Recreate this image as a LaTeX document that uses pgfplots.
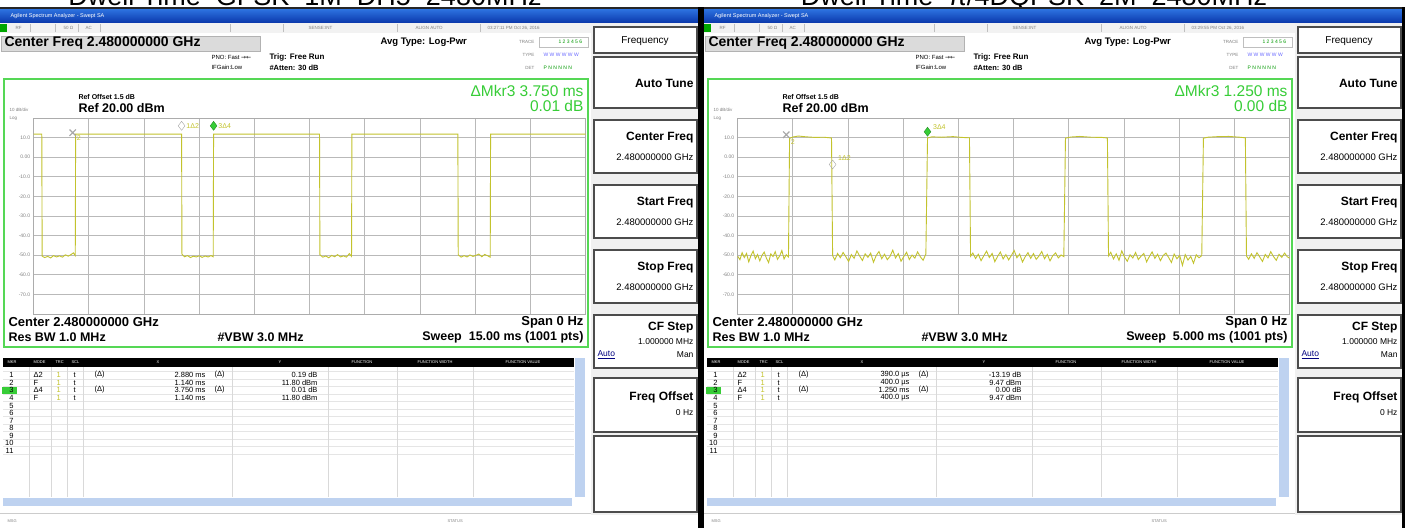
\documentclass[border=0pt]{standalone}
\usepackage{pgfplots}
\pgfplotsset{compat=1.18}
\usepackage{fontspec}
\setmainfont{Liberation Sans}
\newfontfamily\dejavu{DejaVu Sans}
\definecolor{barA}{RGB}{45,115,225}
\definecolor{barB}{RGB}{10,55,170}
\definecolor{frameG}{RGB}{85,215,85}
\definecolor{mkrG}{RGB}{55,205,55}
\definecolor{traceY}{RGB}{195,195,45}
\definecolor{gridG}{RGB}{185,185,185}
\definecolor{scrollB}{RGB}{190,210,240}
\newcommand\fs[1]{\fontsize{#1}{#1}\selectfont}
\newcommand\key[3]{\draw[fill=white,draw=gray!60!black,line width=1.1pt] (594pt,-#1pt) rectangle (697pt,-#2pt);}
\newcommand\mrow[8]{%
\node[anchor=east,font=\fs{7.5}] at (17pt,-#1pt) {#2};
\node[anchor=west,font=\fs{7.5}] at (30pt,-#1pt) {#3};
\node[anchor=west,font=\fs{7.5},text=traceY] at (53pt,-#1pt) {#4};
\node[anchor=west,font=\fs{7.5}] at (70pt,-#1pt) {t};
\node[anchor=west,font=\fs{7.5}] at (91pt,-#1pt) {#5};
\node[anchor=east,font=\fs{7.5}] at (209pt,-#1pt) {#6};
\node[anchor=west,font=\fs{7.5}] at (211pt,-#1pt) {#7};
\node[anchor=east,font=\fs{7.5}] at (321pt,-#1pt) {#8};}
\newcommand\screen[1]{%
\begin{scope}[xshift=#1pt]
% cut title
\node[anchor=base,font=\fs{27},inner sep=0pt] at (\TitleX pt,-5.5pt) {\Title};
\fill[black!85] (0pt,-7pt) rectangle (698pt,-9pt);
\shade[top color=barA,bottom color=barB] (0pt,-9pt) rectangle (698pt,-23pt);
\node[anchor=west,text=white,font=\fs{5.5}] at (7pt,-16pt) {Agilent Spectrum Analyzer - Swept SA};
% status row
\fill[gray!10] (0pt,-23pt) rectangle (593pt,-33pt);
\fill[green!65!black] (0pt,-24pt) rectangle (7pt,-32pt);
\foreach \xx in {30,55,78,100,230,283,397,480}{\draw[gray!50] (\xx pt,-24pt)--(\xx pt,-32pt);}
\node[anchor=west,font=\fs{4.5},text=gray] at (12pt,-28pt) {RF};
\node[anchor=west,font=\fs{4.5},text=gray] at (60pt,-28pt) {50 Ω};
\node[anchor=west,font=\fs{4.5},text=gray] at (82pt,-28pt) {AC};
\node[anchor=west,font=\fs{4.5},text=gray] at (305pt,-28pt) {SENSE:INT};
\node[anchor=west,font=\fs{4.5},text=gray] at (412pt,-28pt) {ALIGN AUTO};
\node[anchor=west,font=\fs{4.5},text=gray] at (484pt,-28pt) {\Time};
% header block
\fill[gray!28] (1pt,-36pt) rectangle (260pt,-51pt);
\draw[gray!60] (1pt,-36pt) rectangle (260pt,-51pt);
\node[anchor=west,font=\bfseries\fs{14}] at (1pt,-43.5pt) {Center Freq 2.480000000 GHz};
\node[anchor=west,font=\bfseries\fs{9.5}] at (377pt,-42pt) {Avg Type: Log-Pwr};
\node[anchor=west,font=\fs{6}] at (208pt,-57pt) {PNO: Fast {\dejavu →←}};
\node[anchor=west,font=\fs{6}] at (208pt,-67pt) {IFGain:Low};
\node[anchor=west,font=\bfseries\fs{8}] at (266pt,-57pt) {Trig: Free Run};
\node[anchor=west,font=\bfseries\fs{7.5}] at (266pt,-68pt) {\#Atten: 30 dB};
\node[anchor=east,font=\fs{4.5},text=gray] at (538pt,-42pt) {TRACE};
\node[anchor=east,font=\fs{4.5},text=gray] at (538pt,-55pt) {TYPE};
\node[anchor=east,font=\fs{4.5},text=gray] at (538pt,-68pt) {DET};
\draw[gray!50] (539pt,-37pt) rectangle (588pt,-47pt);
\node[anchor=west,font=\fs{5},text=green!60!black] at (555pt,-42pt) {1 2 3 4 5 6};
\node[anchor=west,font=\fs{5},text=blue!60] at (540pt,-55pt) {W W W W W W};
\node[anchor=west,font=\fs{5},text=green!60!black] at (540pt,-68pt) {P N N N N N};
% green frame
\draw[frameG,line width=2pt] (4pt,-79pt) rectangle (588pt,-347pt);
\node[anchor=west,font=\bfseries\fs{7}] at (75pt,-97pt) {Ref Offset 1.5 dB};
\node[anchor=west,font=\bfseries\fs{12.5}] at (75pt,-108pt) {Ref 20.00 dBm};
\node[anchor=west,font=\fs{4.5},text=gray] at (6pt,-110pt) {10 dB/div};
\node[anchor=west,font=\fs{4.5},text=gray] at (6pt,-118pt) {Log};
\node[anchor=east,font=\fs{15.5},text=mkrG] at (587pt,-91pt) {ΔMkr3 \MkrT};
\node[anchor=east,font=\fs{15.5},text=mkrG] at (587pt,-106pt) {\MkrD};
\node[anchor=west,font=\bfseries\fs{13}] at (5pt,-322pt) {Center 2.480000000 GHz};
\node[anchor=east,font=\bfseries\fs{13}] at (587pt,-322pt) {Span 0 Hz};
\node[anchor=west,font=\bfseries\fs{12.5}] at (5pt,-337pt) {Res BW 1.0 MHz};
\node[anchor=west,font=\bfseries\fs{12.5}] at (214pt,-337pt) {\#VBW 3.0 MHz};
\node[anchor=east,font=\bfseries\fs{12.5}] at (587pt,-337pt) {Sweep \ \Sweep};
% marker table
\foreach \yy in {371,379,386.5,394,401.5,409,416.5,424,431.5,439,446.5,454} {\draw[gray!20] (3pt,-\yy pt)--(574pt,-\yy pt);}
\foreach \xx in {29,51,67,83,232,328,397,473} {\draw[gray!30] (\xx pt,-367pt)--(\xx pt,-497pt);}
\fill[black] (3pt,-358pt) rectangle (574pt,-367pt);
\node[anchor=west,font=\fs{4},text=white] at (4pt,-362.5pt) {MKR};
\node[anchor=west,font=\fs{4},text=white] at (30pt,-362.5pt) {MODE};
\node[anchor=west,font=\fs{4},text=white] at (52pt,-362.5pt) {TRC};
\node[anchor=west,font=\fs{4},text=white] at (68pt,-362.5pt) {SCL};
\node[font=\fs{4},text=white] at (158pt,-362.5pt) {X};
\node[font=\fs{4},text=white] at (280pt,-362.5pt) {Y};
\node[font=\fs{4},text=white] at (362pt,-362.5pt) {FUNCTION};
\node[font=\fs{4},text=white] at (435pt,-362.5pt) {FUNCTION WIDTH};
\node[font=\fs{4},text=white] at (523pt,-362.5pt) {FUNCTION VALUE};
\fill[scrollB] (575pt,-358pt) rectangle (585pt,-497pt);
\fill[scrollB] (3pt,-498pt) rectangle (572pt,-506pt);
\fill[mkrG] (2pt,-386.5pt) rectangle (17pt,-394pt);
\mrow{375}{1}{Δ2}{1}{(Δ)}{\RaX}{(Δ)}{\RaY}
\mrow{383}{2}{F}{1}{}{\RbX}{}{\RbY}
\mrow{390}{3}{Δ4}{1}{(Δ)}{\RcX}{(Δ)}{\RcY}
\mrow{398}{4}{F}{1}{}{\RdX}{}{\RdY}
\foreach \n/\yy in {5/405.5,6/413,7/420.5,8/428,9/435.5,10/443,11/450.5}{\node[anchor=east,font=\fs{7.5}] at (17pt,-\yy pt) {\n};}
\draw[gray!40] (0pt,-513pt)--(593pt,-513pt);
\node[anchor=west,font=\fs{4},text=gray] at (4pt,-521pt) {MSG};
\node[anchor=west,font=\fs{4},text=gray] at (444pt,-521pt) {STATUS};
% soft key panel
\fill[gray!12] (591pt,-23pt) rectangle (698pt,-515pt);
\key{27}{53}{}
\key{57}{108}{}
\key{120}{173}{}
\key{185}{238}{}
\key{250}{303}{}
\key{315}{368}{}
\key{378}{432}{}
\key{436}{512}{}
\node[font=\fs{10}] at (645pt,-41pt) {Frequency};
\node[anchor=east,font=\bfseries\fs{12}] at (697pt,-83pt) {Auto Tune};
\node[anchor=east,font=\bfseries\fs{12}] at (697pt,-138pt) {Center Freq};
\node[anchor=east,font=\fs{9.5}] at (697pt,-157pt) {2.480000000 GHz};
\node[anchor=east,font=\bfseries\fs{12}] at (697pt,-203pt) {Start Freq};
\node[anchor=east,font=\fs{9.5}] at (697pt,-222pt) {2.480000000 GHz};
\node[anchor=east,font=\bfseries\fs{12}] at (697pt,-268pt) {Stop Freq};
\node[anchor=east,font=\fs{9.5}] at (697pt,-287pt) {2.480000000 GHz};
\node[anchor=east,font=\bfseries\fs{12}] at (697pt,-328pt) {CF Step};
\node[anchor=east,font=\fs{8.5}] at (697pt,-342pt) {1.000000 MHz};
\node[anchor=west,font=\fs{8.5},text=blue!50!black] at (594pt,-355pt) {\underline{Auto}};
\node[anchor=east,font=\fs{8.5}] at (697pt,-355pt) {Man};
\node[anchor=east,font=\bfseries\fs{12}] at (697pt,-397pt) {Freq Offset};
\node[anchor=east,font=\fs{8.5}] at (697pt,-413pt) {0 Hz};
\fill[black] (698pt,-7pt) rectangle (704pt,-528pt);
\end{scope}}
\pgfplotsset{scr/.style={anchor=south west, scale only axis, width=551.8pt, height=196pt,
  ymin=-80, ymax=20, ytick={-70,-60,...,10},
  yticklabels={-70.0,-60.0,-50.0,-40.0,-30.0,-20.0,-10.0,0.00,10.0},
  yticklabel style={font=\fs{5}, text=gray},
  xticklabels={{},{},{},{},{},{},{},{},{},{}},
  grid=major, major grid style={gridG, line width=0.8pt},
  major tick length=0pt, axis line style={gray!65, line width=1pt}, clip=false}}
\begin{document}
\begin{tikzpicture}
\useasboundingbox (0pt,0pt) rectangle (1405pt,-528pt);
\clip (0pt,0pt) rectangle (1405pt,-528pt);
\fill[white] (0pt,0pt) rectangle (1405pt,-528pt);
% ---- left screen
\def\Title{Dwell Time\_GFSK\_1M\_DH5\_2480MHz}\def\TitleX{305}
\def\Time{03:27:11 PM Oct 26, 2016}
\def\MkrT{3.750 ms}\def\MkrD{0.01 dB}\def\Sweep{15.00 ms (1001 pts)}
\def\RaX{2.880 ms}\def\RaY{0.19 dB}\def\RbX{1.140 ms}\def\RbY{11.80 dBm}
\def\RcX{3.750 ms}\def\RcY{0.01 dB}\def\RdX{1.140 ms}\def\RdY{11.80 dBm}
\screen{0}
% ---- right screen
\def\Title{Dwell Time\_π/4DQPSK\_2M\_2480MHz}\def\TitleX{330}
\def\Time{03:29:55 PM Oct 26, 2016}
\def\MkrT{1.250 ms}\def\MkrD{0.00 dB}\def\Sweep{5.000 ms (1001 pts)}
\def\RaX{390.0 µs}\def\RaY{-13.19 dB}\def\RbX{400.0 µs}\def\RbY{9.47 dBm}
\def\RcX{1.250 ms}\def\RcY{0.00 dB}\def\RdX{400.0 µs}\def\RdY{9.47 dBm}
\screen{704}
\fill[black] (1402pt,-7pt) rectangle (1405pt,-528pt);
% ---- left trace
\begin{axis}[scr, at={(33.7pt,-314pt)}, xmin=0, xmax=15, xtick={1.5,3,...,13.5}]
\addplot[traceY, line width=0.9pt] coordinates {
(0,11.8)(0.22,11.8)(0.23,-50.5)(0.3,-51.2)(0.38,-50.6)(0.46,-51.4)(0.54,-50.2)(0.62,-50.9)(0.7,-50.3)(0.78,-51)(0.86,-49.8)(0.94,-50.5)(1.02,-49.6)(1.08,-48.8)(1.13,-50.2)(1.14,11.8)
(4.02,11.8)(4.03,-49.5)(4.1,-50.8)(4.18,-50.2)(4.26,-51.2)(4.34,-50.5)(4.42,-50.9)(4.5,-50.3)(4.58,-51.1)(4.66,-50.4)(4.74,-50.9)(4.82,-50.2)(4.88,-50.8)(4.89,11.8)
(7.77,11.8)(7.78,-49.8)(7.86,-51)(7.94,-50.4)(8.02,-51.3)(8.1,-50.1)(8.18,-50.8)(8.26,-49.7)(8.34,-50.9)(8.42,-50.3)(8.5,-51)(8.58,-49.2)(8.64,-50.6)(8.65,11.8)
(11.53,11.8)(11.54,-49.8)(11.62,-51)(11.7,-50.2)(11.78,-50.9)(11.86,-49.9)(11.94,-50.6)(12.02,-50.1)(12.1,-49.4)(12.18,-50.8)(12.26,-49.6)(12.34,-50.3)(12.41,-51)(12.42,11.8)
(15,11.8)};
\addplot[only marks, mark=x, mark size=4.5pt, gray!70, line width=1.2pt] coordinates {(1.06,12.5)};
\addplot[only marks, mark=diamond, mark size=4.5pt, draw=gray!70, fill=white] coordinates {(4.02,16)};
\addplot[only marks, mark=diamond*, mark size=4.5pt, draw=mkrG!70!black, fill=mkrG] coordinates {(4.89,16)};
\node[anchor=west, font=\fs{7}, text=traceY, inner sep=1pt] at (axis cs:1.14,10) {2};
\node[anchor=west, font=\fs{7}, text=traceY, inner sep=1pt] at (axis cs:4.12,16) {1Δ2};
\node[anchor=west, font=\fs{7}, text=traceY, inner sep=1pt] at (axis cs:4.99,16) {3Δ4};
\end{axis}
% ---- right trace
\begin{axis}[scr, at={(737.7pt,-314pt)}, xmin=0, xmax=5, xtick={0.5,1,...,4.5}]
\addplot[traceY, line width=0.9pt] coordinates {
(0,-50.5)(0.02,-52.3)(0.04,-48.7)(0.06,-51.2)(0.08,-49.1)(0.1,-53.4)(0.12,-50.2)(0.14,-47.9)(0.16,-51.8)(0.18,-49.6)(0.2,-52.9)(0.22,-50.1)(0.24,-48.4)(0.26,-51.5)(0.28,-53.8)(0.3,-49.3)(0.32,-50.7)(0.34,-48.2)(0.36,-52.1)(0.38,-50.4)(0.4,-47.6)(0.42,-51.9)(0.44,-49.8)(0.46,-50.9)
(0.47,9.6)(0.5,10.3)(0.55,10.8)(0.62,10.4)(0.7,10.1)(0.78,10.2)(0.85,9.8)(0.86,-50.2)
(0.88,-52.4)(0.905,-49.1)(0.93,-51.3)(0.955,-48.6)(0.98,-50.8)(1.005,-53.2)(1.03,-49.7)(1.055,-51.6)(1.08,-47.8)(1.105,-50.4)(1.13,-52.7)(1.155,-49.3)(1.18,-51.1)(1.205,-48.9)(1.23,-53.6)(1.255,-50.2)(1.28,-48.1)(1.305,-51.8)(1.33,-49.5)(1.355,-52.3)(1.38,-50.6)(1.405,-47.4)(1.43,-51.4)(1.455,-49.2)(1.48,-53.1)(1.505,-50.7)(1.53,-48.5)(1.555,-52.2)(1.58,-49.9)(1.605,-51.5)(1.63,-48.3)(1.655,-50.8)(1.68,-52.6)(1.705,-49.4)
(1.72,9.8)(1.76,10.4)(1.85,10.2)(1.95,10.5)(2.03,10.1)(2.1,9.9)(2.11,-50.5)
(2.13,-48.9)(2.155,-51.7)(2.18,-49.5)(2.205,-52.8)(2.23,-50.3)(2.255,-47.9)(2.28,-51.2)(2.305,-49.1)(2.33,-53.3)(2.355,-50.6)(2.38,-48.4)(2.405,-51.9)(2.43,-49.7)(2.455,-52.4)(2.48,-50.1)(2.505,-47.6)(2.53,-51.3)(2.555,-49.4)(2.58,-53.5)(2.605,-50.8)(2.63,-48.7)(2.655,-51.6)(2.68,-49.2)(2.705,-52.1)(2.73,-50.4)(2.755,-48.1)(2.78,-51.8)(2.805,-49.6)(2.83,-52.9)(2.855,-50.2)(2.88,-48.8)(2.905,-51.4)(2.93,-49.9)(2.955,-50.7)
(2.97,9.7)(3.02,10.3)(3.1,10.6)(3.2,10.2)(3.3,10.1)(3.35,9.8)(3.36,-50.3)
(3.38,-48.5)(3.405,-51.9)(3.43,-49.3)(3.455,-52.6)(3.48,-47.8)(3.505,-50.9)(3.53,-53.1)(3.555,-49.8)(3.58,-51.4)(3.605,-48.6)(3.63,-52.2)(3.655,-50.5)(3.68,-49.1)(3.705,-53.4)(3.73,-50.7)(3.755,-48.3)(3.78,-51.6)(3.805,-49.5)(3.83,-52.8)(3.855,-50.2)(3.88,-48.9)(3.905,-51.2)(3.93,-53.7)(3.955,-49.4)(3.98,-51.8)(4.005,-50.1)(4.03,-55.2)(4.055,-49.7)(4.08,-52.5)(4.105,-50.6)(4.13,-54.1)(4.155,-49.8)(4.18,-51.3)(4.205,-50.2)
(4.22,9.7)(4.26,10.2)(4.35,10.5)(4.45,10.6)(4.55,10.2)(4.6,9.9)(4.61,-50.4)
(4.63,-52.1)(4.655,-49.3)(4.68,-51.6)(4.705,-48.7)(4.73,-50.9)(4.755,-53.2)(4.78,-49.6)(4.805,-51.4)(4.83,-48.2)(4.855,-50.7)(4.88,-52.6)(4.905,-49.5)(4.93,-51.1)(4.955,-48.9)(4.98,-50.8)(5,-51.5)};
\addplot[only marks, mark=x, mark size=4.5pt, gray!70, line width=1.2pt] coordinates {(0.44,11.5)};
\addplot[only marks, mark=diamond, mark size=4.5pt, draw=gray!70, fill=white] coordinates {(0.86,-3.7)};
\addplot[only marks, mark=diamond*, mark size=4.5pt, draw=mkrG!70!black, fill=mkrG] coordinates {(1.72,13)};
\node[anchor=west, font=\fs{7}, text=traceY, inner sep=1pt] at (axis cs:0.47,7.5) {2};
\node[anchor=west, font=\fs{7}, text=traceY, inner sep=1pt] at (axis cs:0.9,-0.5) {1Δ2};
\node[anchor=west, font=\fs{7}, text=traceY, inner sep=1pt] at (axis cs:1.76,15.5) {3Δ4};
\end{axis}
\end{tikzpicture}
\end{document}
